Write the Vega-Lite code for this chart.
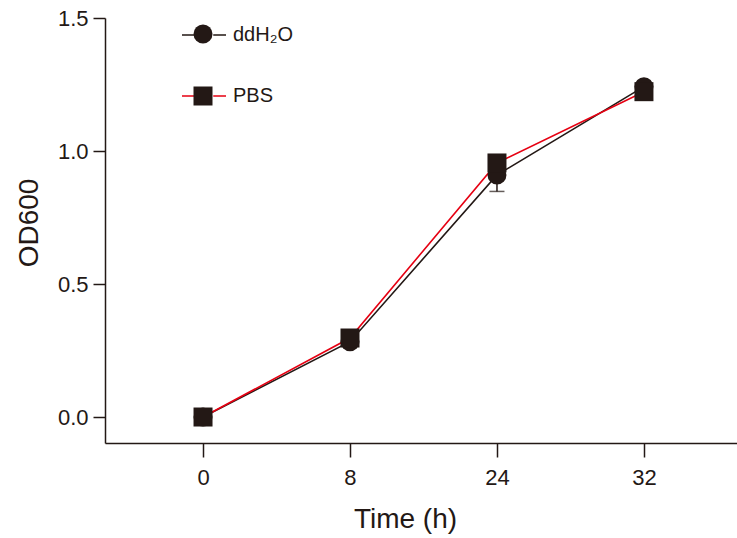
{
  "$schema": "https://vega.github.io/schema/vega-lite/v6.json",
  "width": 632,
  "height": 425,
  "autosize": "none",
  "padding": {"left": 105, "top": 18, "right": 0, "bottom": 95},
  "background": "white",
  "config": {
    "view": {"stroke": null},
    "font": "Liberation Sans",
    "axis": {
      "grid": false,
      "domainColor": "#231815",
      "domainWidth": 1.5,
      "tickColor": "#231815",
      "tickWidth": 1.5,
      "labelColor": "#231815",
      "labelFont": "Liberation Sans",
      "labelFontSize": 22,
      "titleColor": "#231815",
      "titleFont": "Liberation Sans",
      "titleFontSize": 28,
      "titleFontWeight": "normal"
    }
  },
  "data": {
    "values": [
      {"time": "0", "group": "ddH₂O", "value": 0.0, "lo": 0.0, "hi": 0.0},
      {"time": "8", "group": "ddH₂O", "value": 0.283, "lo": 0.27, "hi": 0.296},
      {"time": "24", "group": "ddH₂O", "value": 0.91, "lo": 0.848, "hi": 0.955},
      {"time": "32", "group": "ddH₂O", "value": 1.242, "lo": 1.235, "hi": 1.25},
      {"time": "0", "group": "PBS", "value": 0.0, "lo": 0.0, "hi": 0.0},
      {"time": "8", "group": "PBS", "value": 0.297, "lo": 0.29, "hi": 0.305},
      {"time": "24", "group": "PBS", "value": 0.955, "lo": 0.945, "hi": 0.965},
      {"time": "32", "group": "PBS", "value": 1.223, "lo": 1.215, "hi": 1.23}
    ]
  },
  "encoding": {
    "x": {
      "field": "time",
      "type": "ordinal",
      "sort": ["0", "8", "24", "32"],
      "scale": {"type": "point", "padding": 0.65, "align": 0.513},
      "axis": {
        "title": "Time (h)",
        "labelAngle": 0,
        "tickSize": 14,
        "labelPadding": 10,
        "titleX": 300,
        "titleY": 84,
        "titleAlign": "center",
        "titleBaseline": "alphabetic"
      }
    }
  },
  "layer": [
    {
      "mark": {"type": "rule", "color": "#231815", "strokeWidth": 1.5},
      "encoding": {
        "y": {"field": "lo", "type": "quantitative"},
        "y2": {"field": "hi"}
      }
    },
    {
      "mark": {"type": "tick", "color": "#231815", "thickness": 1.5, "size": 15, "orient": "horizontal"},
      "encoding": {
        "y": {"field": "lo", "type": "quantitative"}
      }
    },
    {
      "mark": {"type": "line", "strokeWidth": 1.6},
      "encoding": {
        "y": {
          "field": "value",
          "type": "quantitative",
          "scale": {"domain": [-0.0977, 1.5], "nice": false, "zero": false},
          "axis": {
            "title": "OD600",
            "values": [0, 0.5, 1, 1.5],
            "format": ".1f",
            "tickSize": 12,
            "labelPadding": 5,
            "titleAngle": -90,
            "titleX": -68,
            "titleY": 204.5,
            "titleAlign": "center",
            "titleBaseline": "alphabetic"
          }
        },
        "color": {
          "field": "group",
          "type": "nominal",
          "scale": {"domain": ["ddH₂O", "PBS"], "range": ["#231815", "#e60012"]},
          "legend": {
            "orient": "none",
            "legendX": 76,
            "legendY": -6,
            "title": null,
            "padding": 0,
            "symbolType": "M-1,0H-0.42M0.42,0H1",
            "symbolSize": 1936,
            "symbolStrokeWidth": 1.6,
            "symbolFillColor": "transparent",
            "labelFont": "Liberation Sans",
            "labelFontSize": 20,
            "labelColor": "#231815",
            "labelOffset": 6,
            "rowPadding": 28
          }
        }
      }
    },
    {
      "mark": {"type": "point", "filled": true, "color": "#231815", "opacity": 1, "size": 361},
      "encoding": {
        "y": {"field": "value", "type": "quantitative"},
        "shape": {
          "field": "group",
          "type": "nominal",
          "sort": "descending",
          "scale": {"range": ["circle", "square"]},
          "legend": {
            "orient": "none",
            "legendX": 88,
            "legendY": 6,
            "title": null,
            "padding": 0,
            "symbolSize": 361,
            "symbolFillColor": "#231815",
            "symbolStrokeWidth": 0,
            "symbolOpacity": 1,
            "labelFontSize": 20,
            "labelExpr": "''",
            "labelColor": "transparent",
            "labelOffset": 7,
            "rowPadding": 42
          }
        }
      }
    }
  ]
}
